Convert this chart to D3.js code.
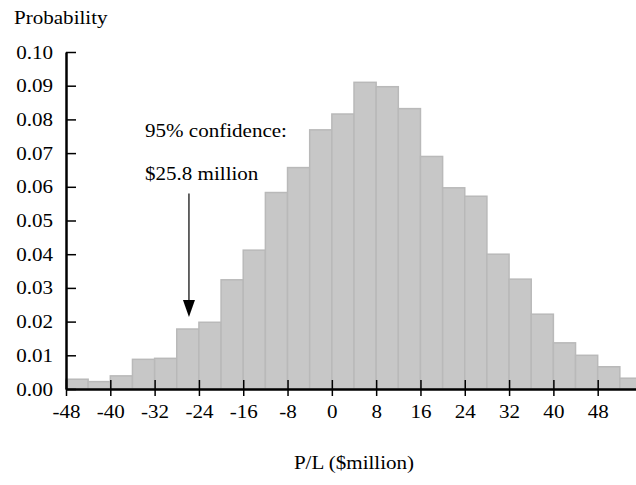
<!DOCTYPE html>
<html>
<head>
<meta charset="utf-8">
<script src="https://cdn.jsdelivr.net/npm/d3@7"></script>
<style>
  body { margin: 0; background: #fff; }
  text { font-family: "Liberation Serif", "Times New Roman", serif; fill: #000; }
</style>
</head>
<body>
<script>

// histogram bins (left edge of each $4 million bin)
var binStarts = [-48, -44, -40, -36, -32, -28, -24, -20, -16, -12, -8, -4, 0,
                 4, 8, 12, 16, 20, 24, 28, 32, 36, 40, 44, 48, 52];
var binWidth = 4;

// probability of each bin
var probs = [0.0029, 0.0022, 0.0039, 0.0088, 0.0091, 0.0178, 0.0198, 0.0324,
             0.0412, 0.0583, 0.0657, 0.0769, 0.0816, 0.0910, 0.0897, 0.0832,
             0.0690, 0.0597, 0.0572, 0.0400, 0.0326, 0.0222, 0.0137, 0.0100,
             0.0066, 0.0032];

// tick labels
var xTicks = [-48, -40, -32, -24, -16, -8, 0, 8, 16, 24, 32, 40, 48];
var yTicks = [0, 0.01, 0.02, 0.03, 0.04, 0.05, 0.06, 0.07, 0.08, 0.09, 0.10];

// value at risk marker
var varValue = -25.8;
var varLines = ["95% confidence:", "$25.8 million"];

window.onload = function() {

  var width = 636;
  var height = 485;
  var stretch = 1.17;   // text in the original is a bit wider than tall
  var fontSize = 18;

  var svg = d3.select("body")
              .append("svg")
              .attr("width", width)
              .attr("height", height);

  // scales
  var xScale = d3.scaleLinear()
                 .domain([-48, 56])
                 .range([66, 642]);

  var yScale = d3.scaleLinear()
                 .domain([0, 0.10])
                 .range([389, 52]);

  // helper for stretched text
  function label(x, y, str, anchor) {
    svg.append("text")
       .attr("transform", "translate(" + x + "," + y + ") scale(" + stretch + ",1)")
       .attr("text-anchor", anchor || "start")
       .attr("font-size", fontSize + "px")
       .text(str);
  }

  // bars
  svg.selectAll("rect.bar")
     .data(probs)
     .enter()
     .append("rect")
     .attr("class", "bar")
     .attr("x", function(d, i) { return xScale(binStarts[i]); })
     .attr("y", function(d) { return yScale(d); })
     .attr("width", function(d, i) { return xScale(binStarts[i] + binWidth) - xScale(binStarts[i]); })
     .attr("height", function(d) { return yScale(0) - yScale(d); })
     .attr("fill", "#c7c7c7")
     .attr("stroke", "#b9b9b9")
     .attr("stroke-width", 1.5);

  // y axis, ticks pointing inwards
  var yAxis = d3.axisLeft(yScale)
                .tickValues(yTicks)
                .tickFormat(function(d) { return d.toFixed(2); })
                .tickSizeInner(-10)
                .tickSizeOuter(0);

  var yGuide = svg.append("g")
                  .attr("transform", "translate(" + xScale(-48) + ",0)")
                  .call(yAxis);
  yGuide.select(".domain")
        .attr("stroke", "#000")
        .attr("stroke-width", 2.5);
  yGuide.selectAll(".tick line")
        .attr("stroke", "#000")
        .attr("stroke-width", 1.5);
  yGuide.selectAll(".tick text")
        .attr("x", null)
        .attr("dy", null)
        .attr("y", 6)
        .attr("font-family", null)
        .attr("font-size", fontSize + "px")
        .attr("transform", "translate(-13,0) scale(" + stretch + ",1)");

  // x axis, ticks crossing the line (plain hyphen for negatives)
  var xAxis = d3.axisBottom(xScale)
                .tickValues(xTicks)
                .tickFormat(function(d) { return String(d); })
                .tickSizeInner(7)
                .tickSizeOuter(0);

  var xGuide = svg.append("g")
                  .attr("transform", "translate(0," + yScale(0) + ")")
                  .call(xAxis);
  xGuide.select(".domain")
        .attr("stroke", "#000")
        .attr("stroke-width", 2.5);
  xGuide.selectAll(".tick line")
        .attr("y1", -9)
        .attr("y2", 7)
        .attr("stroke", "#000")
        .attr("stroke-width", 1.5);
  xGuide.selectAll(".tick text")
        .attr("y", null)
        .attr("dy", null)
        .attr("font-family", null)
        .attr("font-size", fontSize + "px")
        .attr("transform", "translate(0,29) scale(" + stretch + ",1)");

  // axis titles
  label(14, 24, "Probability");
  label(354, 469, "P/L ($million)", "middle");

  // annotation text
  var ax = xScale(varValue);
  label(ax - 44, 137, varLines[0]);
  label(ax - 44, 180, varLines[1]);

  // arrow
  var arrowTop = yScale(0.058);
  var arrowTip = yScale(0.0214);
  svg.append("line")
     .attr("x1", ax)
     .attr("x2", ax)
     .attr("y1", arrowTop)
     .attr("y2", arrowTip - 12)
     .attr("stroke", "#000")
     .attr("stroke-width", 1.2);
  svg.append("path")
     .attr("d", "M" + (ax - 6) + "," + (arrowTip - 17) +
                "L" + (ax + 6) + "," + (arrowTip - 17) +
                "L" + ax + "," + arrowTip + "Z")
     .attr("fill", "#000");
};

</script>
</body>
</html>
